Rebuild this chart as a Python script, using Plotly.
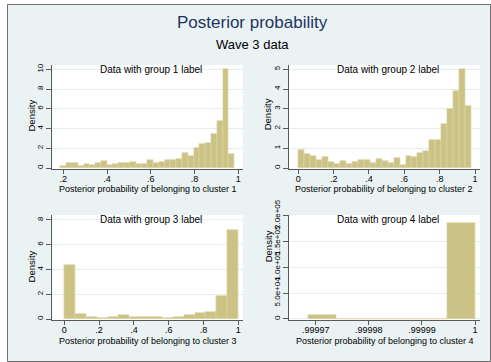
import plotly.graph_objects as go

W, H = 491, 362

# ---------------- data ----------------
# Panel 1: group 1, posterior prob. of cluster 1 (30 bins)
p1_start = 0.188
p1_width = 0.02647
p1_density = [0.24, 0.54, 0.5, 0.24, 0.4, 0.27, 0.5, 0.67, 0.27, 0.4,
              0.5, 0.54, 0.57, 0.44, 0.44, 0.77, 0.55, 0.6, 0.8, 0.8,
              0.9, 1.5, 1.2, 2.0, 2.45, 2.5, 3.45, 4.75, 10.0, 1.45]

# Panel 2: group 2, cluster 2 (29 bins)
p2_start = 0.0
p2_width = 0.0338
p2_density = [0.9, 0.7, 0.59, 0.41, 0.57, 0.33, 0.22, 0.34, 0.22, 0.31,
              0.41, 0.39, 0.25, 0.46, 0.36, 0.25, 0.5, 0.17, 0.62, 0.56,
              0.74, 0.86, 1.41, 1.4, 2.24, 2.98, 3.89, 5.02, 3.15]

# Panel 3: group 3, cluster 3 (16 bins)
p3_start = 0.0
p3_width = 0.0625
p3_density = [4.37, 0.43, 0.16, 0.11, 0.16, 0.3, 0.19, 0.19, 0.19, 0.11,
              0.16, 0.3, 0.46, 0.54, 1.83, 7.2]

# Panel 4: group 4, cluster 4 (6 bins)
p4_start = 0.99996867
p4_width = 0.000005222
p4_density = [6700, 0, 0, 0, 0, 184800]

titles = ["Data with group 1 label", "Data with group 2 label",
          "Data with group 3 label", "Data with group 4 label"]
xtitles = ["Posterior probability of belonging to cluster 1",
           "Posterior probability of belonging to cluster 2",
           "Posterior probability of belonging to cluster 3",
           "Posterior probability of belonging to cluster 4"]

x1_ticks = [0.2, 0.4, 0.6, 0.8, 1.0]
x1_labels = [".2", ".4", ".6", ".8", "1"]
x2_ticks = [0, 0.2, 0.4, 0.6, 0.8, 1.0]
x2_labels = ["0", ".2", ".4", ".6", ".8", "1"]
x4_ticks = [0.99997, 0.99998, 0.99999, 1.0]
x4_labels = [".99997", ".99998", ".99999", "1"]
y1_ticks = [0, 2, 4, 6, 8, 10]
y2_ticks = [0, 1, 2, 3, 4, 5]
y3_ticks = [0, 2, 4, 6, 8]
y4_ticks = [0, 50000, 100000, 150000, 200000]
y4_labels = ["0", "5.0e+04", "1.0e+05", "1.5e+05", "2.0e+05"]

# ---------------- styling ----------------
FONT = "Liberation Sans, Arial, sans-serif"
BG = "#EAF2F3"
BAR = "#CBC385"
BARLINE = "#DCD6A8"
GRID = "#E4ECEE"
AXIS = "#5A5A5A"


def fx(px):
    return px / W


def fy(py):
    return 1 - py / H


# panel geometry in pixels: (left, right, top, bottom)
boxes = [(52.3, 242.7, 65, 169), (289.3, 480, 65, 169),
         (52.3, 242.7, 215, 320), (289.3, 480, 215, 320)]
xranges = [[0.1497, 1.0201], [-0.051, 1.0283], [-0.069, 1.0253],
           [0.99996503, 1.00000094]]
yranges = [[-0.1, 10.44], [-0.05, 5.218], [-0.08, 8.40], [-2020, 201010]]

panels = [(p1_start, p1_width, p1_density), (p2_start, p2_width, p2_density),
          (p3_start, p3_width, p3_density), (p4_start, p4_width, p4_density)]

fig = go.Figure()
for i, (st, wd, dens) in enumerate(panels):
    centers = [st + wd * (k + 0.5) for k in range(len(dens))]
    sfx = "" if i == 0 else str(i + 1)
    fig.add_trace(go.Bar(
        x=centers, y=dens, width=[wd] * len(dens),
        marker=dict(color=BAR, line=dict(color=BARLINE, width=0.7)),
        xaxis="x" + sfx, yaxis="y" + sfx, showlegend=False,
        hoverinfo="skip"))

xtickinfo = [(x1_ticks, x1_labels), (x2_ticks, x2_labels),
             (x2_ticks, x2_labels), (x4_ticks, x4_labels)]
ytickinfo = [(y1_ticks, [str(v) for v in y1_ticks]),
             (y2_ticks, [str(v) for v in y2_ticks]),
             (y3_ticks, [str(v) for v in y3_ticks]),
             (y4_ticks, y4_labels)]

layout = dict(
    width=W, height=H,
    margin=dict(l=0, r=0, t=0, b=0, pad=0, autoexpand=False),
    paper_bgcolor=BG, plot_bgcolor="white", bargap=0,
    font=dict(family=FONT, color="black"),
)
for i in range(4):
    l, r, t, b = boxes[i]
    sfx = "" if i == 0 else str(i + 1)
    layout["xaxis" + sfx] = dict(
        domain=[fx(l), fx(r)], range=xranges[i], anchor="y" + sfx,
        tickmode="array", tickvals=xtickinfo[i][0], ticktext=xtickinfo[i][1],
        ticks="outside", ticklen=4, tickcolor=AXIS, tickwidth=1,
        ticklabelstandoff=-3,
        showline=True, linecolor=AXIS, linewidth=1, showgrid=False,
        zeroline=False, tickfont=dict(size=9, family=FONT, color="black"),
        automargin=False, fixedrange=True)
    layout["yaxis" + sfx] = dict(
        domain=[fy(b), fy(t)], range=yranges[i], anchor="x" + sfx,
        tickmode="array", tickvals=ytickinfo[i][0], ticktext=ytickinfo[i][1],
        ticks="outside", ticklen=5, tickcolor=AXIS, tickwidth=1,
        tickangle=-90,
        showline=True, linecolor=AXIS, linewidth=1, showgrid=True,
        gridcolor=GRID, gridwidth=1, zeroline=False,
        tickfont=dict(size=8, family=FONT, color="black"),
        automargin=False, fixedrange=True)

annotations = []
# main titles
annotations.append(dict(text="Posterior probability", x=fx(252.5), y=fy(22.7),
                        font=dict(size=17, color="#1F3561", family=FONT)))
annotations.append(dict(text="Wave 3 data", x=fx(253), y=fy(45),
                        font=dict(size=13, color="black", family=FONT)))
sub_pos = [(150.8, 69.5), (387.7, 69.5), (150.8, 219.5), (387.7, 219.5)]
dens_pos = [(31.7, 115.8), (268.3, 114), (31.7, 266.7), (268.3, 246)]
xt_pos = [(148, 189), (384, 189), (148, 340.5), (384.7, 340.5)]
for i in range(4):
    annotations.append(dict(text=titles[i], x=fx(sub_pos[i][0]), y=fy(sub_pos[i][1]),
                            font=dict(size=10, color="black", family=FONT)))
    annotations.append(dict(text="Density", x=fx(dens_pos[i][0]), y=fy(dens_pos[i][1]),
                            textangle=-90,
                            font=dict(size=9.5, color="black", family=FONT)))
    annotations.append(dict(text=xtitles[i], x=fx(xt_pos[i][0]), y=fy(xt_pos[i][1]),
                            font=dict(size=9, color="black", family=FONT)))
for a in annotations:
    a.update(xref="paper", yref="paper", showarrow=False,
             xanchor="center", yanchor="middle")
layout["annotations"] = annotations

shapes = [
    # white outside strips
    dict(type="rect", xref="paper", yref="paper", x0=0, x1=fx(7), y0=0, y1=1,
         fillcolor="white", line=dict(width=0), layer="below"),
    dict(type="rect", xref="paper", yref="paper", x0=0, x1=1, y0=fy(4), y1=1,
         fillcolor="white", line=dict(width=0), layer="below"),
    # frame
    dict(type="rect", xref="paper", yref="paper", x0=fx(7.5), x1=fx(490.5),
         y0=fy(361.5), y1=fy(4.5), line=dict(color="#6E6E6E", width=1),
         fillcolor="rgba(0,0,0,0)", layer="below"),
]
layout["shapes"] = shapes

fig.update_layout(**layout)
fig.write_html("out.html")
